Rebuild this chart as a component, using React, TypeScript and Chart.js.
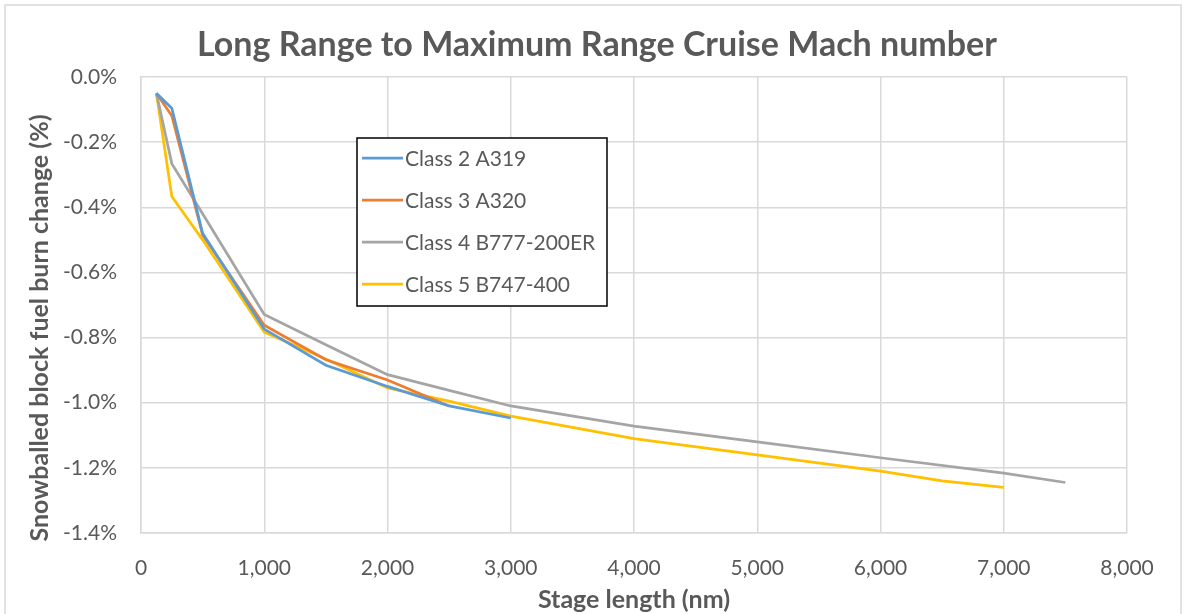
import React, { useEffect, useRef } from "react";
import { Chart, registerables } from "chart.js";

Chart.register(...registerables);

const TITLE = "Long Range to Maximum Range Cruise Mach number";
const X_TITLE = "Stage length (nm)";
const Y_TITLE = "Snowballed block fuel burn change (%)";

const SERIES_NAMES = ["Class 2 A319", "Class 3 A320", "Class 4 B777-200ER", "Class 5 B747-400"];
const SERIES_COLORS = ["#5B9BD5", "#ED7D31", "#A5A5A5", "#FFC000"];

const A319_X = [125, 250, 500, 1000, 1500, 2000, 2500, 3000];
const A319_Y = [-0.05, -0.096, -0.48, -0.774, -0.885, -0.95, -1.01, -1.047];

const A320_X = [125, 250, 500, 1000, 1500, 2000, 2500];
const A320_Y = [-0.05, -0.119, -0.485, -0.762, -0.868, -0.93, -1.01];

const B777_X = [125, 250, 500, 1000, 1500, 2000, 2500, 3000, 4000, 5000, 6000, 7000, 7500];
const B777_Y = [-0.05, -0.266, -0.42, -0.729, -0.822, -0.914, -0.962, -1.01, -1.072, -1.12, -1.169, -1.216, -1.245];

const B747_X = [125, 250, 500, 1000, 1500, 2000, 2500, 3000, 4000, 5000, 6000, 6500, 7000];
const B747_Y = [-0.05, -0.367, -0.5, -0.783, -0.866, -0.955, -0.995, -1.041, -1.11, -1.16, -1.21, -1.24, -1.26];

const X_MIN = 0;
const X_MAX = 8000;
const X_STEP = 1000;
const Y_MIN = -1.4;
const Y_MAX = 0;
const Y_STEP = 0.2;

const FONT = "Lato, 'Open Sans', sans-serif";
const TEXT = "#595959";

function pts(xs: number[], ys: number[]) {
  return xs.map((x, i) => ({ x, y: ys[i] }));
}

const decorPlugin = {
  id: "decor",
  beforeDraw(chart: any) {
    const ctx = chart.ctx;
    ctx.save();
    ctx.fillStyle = "#ffffff";
    ctx.fillRect(0, 0, chart.width, chart.height);
    ctx.strokeStyle = "#d9d9d9";
    ctx.lineWidth = 1.5;
    ctx.strokeRect(5, 5, 1176, 640);
    ctx.restore();
  },
  afterDraw(chart: any) {
    const ctx = chart.ctx;
    ctx.save();
    ctx.fillStyle = TEXT;
    ctx.textAlign = "center";
    ctx.textBaseline = "middle";
    ctx.font = `bold 34px ${FONT}`;
    ctx.fillText(TITLE, 597, 45);
    ctx.font = `bold 25px ${FONT}`;
    ctx.fillText(X_TITLE, 634, 600);
    ctx.save();
    ctx.translate(40, 328);
    ctx.rotate(-Math.PI / 2);
    ctx.fillText(Y_TITLE, 0, 0);
    ctx.restore();

    // legend box
    const lx = 357, ly = 138, lw = 250, lh = 168;
    ctx.fillStyle = "#ffffff";
    ctx.fillRect(lx, ly, lw, lh);
    ctx.strokeStyle = "#000000";
    ctx.lineWidth = 1.5;
    ctx.strokeRect(lx, ly, lw, lh);
    ctx.font = `21px ${FONT}`;
    ctx.textAlign = "left";
    chart.data.datasets.forEach((ds: any, i: number) => {
      const y = 158 + i * 42;
      ctx.strokeStyle = ds.borderColor;
      ctx.lineWidth = 2.75;
      ctx.beginPath();
      ctx.moveTo(362, y);
      ctx.lineTo(403, y);
      ctx.stroke();
      ctx.fillStyle = TEXT;
      ctx.fillText(ds.label, 405, y + 1);
    });
    ctx.restore();
  },
};

export default function App() {
  const ref = useRef<HTMLCanvasElement>(null);
  useEffect(() => {
    if (!ref.current) return;
    const xsList = [A319_X, A320_X, B777_X, B747_X];
    const ysList = [A319_Y, A320_Y, B777_Y, B747_Y];
    const chart = new Chart(ref.current, {
      type: "line",
      data: {
        datasets: SERIES_NAMES.map((name, i) => ({
          label: name,
          data: pts(xsList[i], ysList[i]),
          borderColor: SERIES_COLORS[i],
          backgroundColor: SERIES_COLORS[i],
          borderWidth: 2.75,
          pointRadius: 0,
          tension: 0,
          fill: false,
        })),
      },
      options: {
        animation: false,
        responsive: false,
        maintainAspectRatio: false,
        layout: { padding: { top: 77, right: 60, left: 0, bottom: 0 } },
        plugins: {
          legend: { display: false },
          title: { display: false },
          tooltip: { enabled: false },
        },
        scales: {
          x: {
            type: "linear",
            min: X_MIN,
            max: X_MAX,
            afterFit: (s: any) => {
              s.height = 81;
            },
            ticks: {
              stepSize: X_STEP,
              color: TEXT,
              font: { family: FONT, size: 21 },
              padding: 23,
              maxRotation: 0,
              callback: (v: any) => Number(v).toLocaleString("en-US"),
            },
            grid: { color: "#d9d9d9", lineWidth: 1.5, drawTicks: false },
            border: { color: "#d9d9d9", width: 1.5 },
          },
          y: {
            type: "linear",
            min: Y_MIN,
            max: Y_MAX,
            afterFit: (s: any) => {
              s.width = 141;
            },
            ticks: {
              stepSize: Y_STEP,
              color: TEXT,
              font: { family: FONT, size: 21 },
              padding: 24,
              callback: (v: any) => Number(v).toFixed(1) + "%",
            },
            grid: { color: "#d9d9d9", lineWidth: 1.5, drawTicks: false },
            border: { color: "#d9d9d9", width: 1.5 },
          },
        },
      },
      plugins: [decorPlugin],
    });
    return () => chart.destroy();
  }, []);
  return (
    <div style={{ position: "absolute", left: 0, top: 0, width: 1187, height: 614 }}>
      <canvas ref={ref} width={1187} height={614} style={{ display: "block" }} />
    </div>
  );
}
